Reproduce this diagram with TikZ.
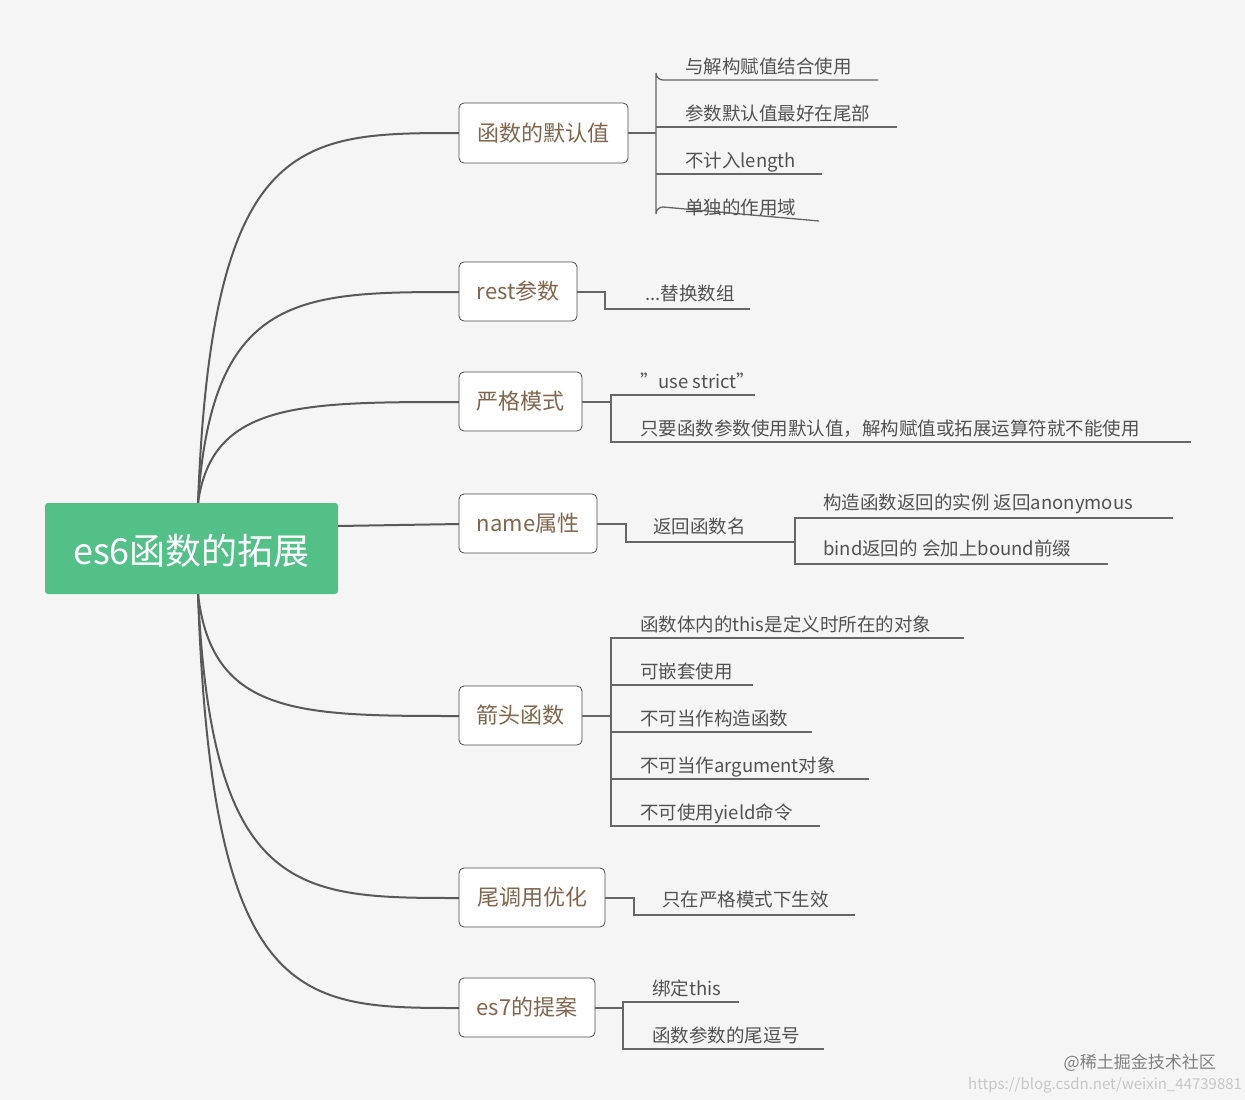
\documentclass[tikz,border=0pt]{standalone}
\usepackage{fontspec}
\setmainfont{Noto Sans CJK SC}
\begin{document}
\begin{tikzpicture}[x=1pt,y=-1pt,
  ln/.style={draw=black!60,line width=1.3pt},
  br/.style={draw=black!65,line width=2pt},
  bx/.style={draw=black!70,fill=white,rounded corners=5pt,line width=0.8pt},
  bt/.style={text=brown!50!black!80,font=\fontsize{22}{24}\selectfont,anchor=center},
  lt/.style={text=black!68,font=\fontsize{18.5}{20}\selectfont,anchor=base west,inner sep=0pt}]
\fill[black!4] (0,0) rectangle (1245,1100);
\useasboundingbox (0,0) rectangle (1245,1100);
% curves
\foreach \y/\sy in {133/503,292/503,402/503,716/594,898/594,1008/594}{
  \draw[br] (198,\sy) .. controls (212,\y) and (300,\y) .. (460,\y);
}
\draw[br] (338,526) -- (460,524);
% center
\fill[fill={rgb,255:red,82;green,192;blue,135},rounded corners=3pt] (45,503) rectangle (338,594);
\node[text=white,font=\fontsize{36}{40}\selectfont] (c) at (191.5,551) {es6函数的拓展};
% boxes
\foreach \n/\a/\b/\c/\d/\t in {b1/459/103/628/163/函数的默认值, b2/459/262/577/321/rest参数, b3/459/372/582/431/严格模式, b4/459/494/597/553/name属性, b5/459/686/582/745/箭头函数, b6/459/868/605/927/尾调用优化, b7/459/978/595/1037/es7的提案}{
  \draw[bx] (\a,\b) rectangle (\c,\d);
  \node[bt] (\n) at ({(\a+\c)/2},{(\b+\d)/2}) {\t};
}
% group 1
\draw[ln] (628,133) -- (656,133);
\draw[ln] (878,80) -- (663,80) arc[start angle=90,end angle=180,radius=7] -- (656,214) arc[start angle=180,end angle=270,radius=7] -- (819,221);
\draw[ln] (656,127) -- (897,127);
\draw[ln] (656,174) -- (822,174);
\node[lt] (l11) at (685,73) {与解构赋值结合使用};
\node[lt] (l12) at (685,120) {参数默认值最好在尾部};
\node[lt] (l13) at (685,167) {不计入length};
\node[lt] (l14) at (685,214) {单独的作用域};
% group 2
\draw[ln] (577,292) -- (605,292) -- (605,309) -- (750,309);
\node[lt] (l21) at (645,300) {...替换数组};
% group 3
\draw[ln] (582,402) -- (611,402);
\draw[ln] (755,395) -- (611,395) -- (611,442) -- (1191,442);
\node[lt] (l31) at (640,388) {"use strict"};
\node[lt] (l32) at (640,435) {只要函数参数使用默认值，解构赋值或拓展运算符就不能使用};
% group 4
\draw[ln] (597,524) -- (626,524) -- (626,542) -- (795,542);
\node[lt] (l41) at (653,533) {返回函数名};
\draw[ln] (1173,518) -- (795,518) -- (795,564) -- (1108,564);
\node[lt] (l42) at (823,509) {构造函数返回的实例 返回anonymous};
\node[lt] (l43) at (823,555) {bind返回的 会加上bound前缀};
% group 5
\draw[ln] (582,716) -- (611,716);
\draw[ln] (964,638) -- (611,638) -- (611,826) -- (820,826);
\draw[ln] (611,685) -- (753,685);
\draw[ln] (611,732) -- (812,732);
\draw[ln] (611,779) -- (869,779);
\node[lt] (l51) at (640,631) {函数体内的this是定义时所在的对象};
\node[lt] (l52) at (640,678) {可嵌套使用};
\node[lt] (l53) at (640,725) {不可当作构造函数};
\node[lt] (l54) at (640,772) {不可当作argument对象};
\node[lt] (l55) at (640,819) {不可使用yield命令};
% group 6
\draw[ln] (605,898) -- (634,898) -- (634,915) -- (855,915);
\node[lt] (l61) at (662,906) {只在严格模式下生效};
% group 7
\draw[ln] (595,1008) -- (623,1008);
\draw[ln] (739,1002) -- (623,1002) -- (623,1049) -- (824,1049);
\node[lt] (l71) at (652,995) {绑定this};
\node[lt] (l72) at (652,1042) {函数参数的尾逗号};
% watermark
\node[text=black!50,font=\fontsize{17}{18}\selectfont,anchor=base east,inner sep=0pt] (w1) at (1216,1068) {@稀土掘金技术社区};
\node[text=black!22,font=\fontsize{15}{16}\selectfont,anchor=base west,inner sep=0pt] (w2) at (968,1089) {https://blog.csdn.net/weixin\_44739881};
\end{tikzpicture}
\end{document}
